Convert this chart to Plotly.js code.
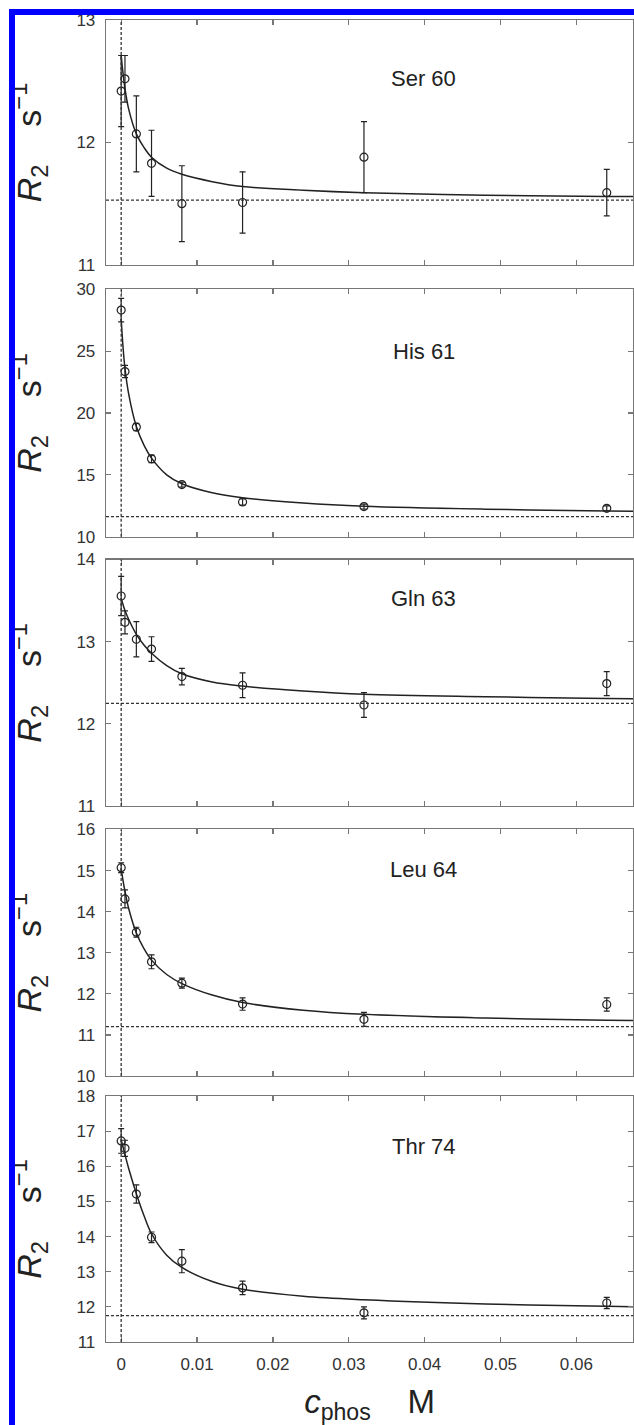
<!DOCTYPE html>
<html>
<head>
<meta charset="utf-8">
<script src="https://cdn.plot.ly/plotly-3.0.1.min.js"></script>
<style>
  html, body { margin: 0; padding: 0; background: #ffffff; overflow: hidden; }
  #wrap { position: relative; width: 634px; height: 1425px; }
  #chart { position: absolute; left: 0; top: 0; width: 634px; height: 1425px; }
  #frame { position: absolute; left: 9px; top: 9px; width: 640px; height: 1430px;
           border-left: 6px solid #0000ff; border-top: 6px solid #0000ff;
           pointer-events: none; z-index: 10; }
</style>
</head>
<body>
<div id="wrap">
  <div id="chart"></div>
  <div id="frame"></div>
</div>
<script>
// ---- data ----
const residues = ["Ser 60", "His 61", "Gln 63", "Leu 64", "Thr 74"];
const cPhos = [0, 0.0005, 0.002, 0.004, 0.008, 0.016, 0.032, 0.064];

const ser60    = [12.42, 12.52, 12.07, 11.83, 11.50, 11.51, 11.88, 11.59];
const ser60Err = [0.29, 0.19, 0.31, 0.27, 0.31, 0.25, 0.29, 0.19];
const his61    = [28.32, 23.35, 18.86, 16.29, 14.21, 12.80, 12.43, 12.29];
const his61Err = [0.95, 0.50, 0.30, 0.30, 0.20, 0.25, 0.20, 0.20];
const gln63    = [13.556, 13.236, 13.03, 12.91, 12.575, 12.47, 12.23, 12.49];
const gln63Err = [0.24, 0.14, 0.215, 0.15, 0.10, 0.15, 0.15, 0.145];
const leu64    = [15.07, 14.31, 13.50, 12.78, 12.26, 11.75, 11.38, 11.74];
const leu64Err = [0.12, 0.22, 0.12, 0.17, 0.12, 0.15, 0.17, 0.16];
const thr74    = [16.72, 16.51, 15.21, 13.98, 13.30, 12.54, 11.83, 12.11];
const thr74Err = [0.35, 0.23, 0.26, 0.15, 0.33, 0.19, 0.17, 0.16];

// fitted curves
const fitC     = [0, 0.00025, 0.0005, 0.001, 0.002, 0.003, 0.004, 0.006, 0.008, 0.012, 0.016, 0.024, 0.032, 0.048, 0.064, 0.0675];
const ser60Fit = [12.71, 12.56, 12.44, 12.27, 12.07, 11.96, 11.88, 11.79, 11.74, 11.68, 11.64, 11.61, 11.59, 11.57, 11.56, 11.56];
const his61Fit = [27.6, 25.3, 23.6, 21.5, 18.9, 17.4, 16.35, 15.0, 14.28, 13.55, 13.15, 12.72, 12.46, 12.22, 12.08, 12.05];
const gln63Fit = [13.53, 13.45, 13.38, 13.27, 13.09, 12.96, 12.86, 12.71, 12.61, 12.51, 12.46, 12.40, 12.36, 12.33, 12.31, 12.305];
const leu64Fit = [15.05, 14.75, 14.50, 14.07, 13.48, 13.10, 12.82, 12.47, 12.25, 11.97, 11.79, 11.60, 11.50, 11.41, 11.36, 11.35];
const thr74Fit = [16.76, 16.54, 16.33, 15.93, 15.22, 14.60, 14.08, 13.47, 13.12, 12.72, 12.50, 12.30, 12.20, 12.08, 12.02, 12.00];

// dashed reference levels
const rInf = [11.53, 11.61, 12.25, 11.20, 11.75];
const zeroConc = 0;

// axis ranges and ticks
const yRanges = [[11, 13], [10, 30], [11, 14], [10, 16], [11, 18]];
const yDticks = [1, 5, 1, 1, 1];
const xRange = [-0.002, 0.06746];
const xTickVals = [0, 0.01, 0.02, 0.03, 0.04, 0.05, 0.06];
const xTickText = ["0", "0.01", "0.02", "0.03", "0.04", "0.05", "0.06"];

// ---- build the figure ----
const obs = [ser60, his61, gln63, leu64, thr74];
const errs = [ser60Err, his61Err, gln63Err, leu64Err, thr74Err];
const fits = [ser60Fit, his61Fit, gln63Fit, leu64Fit, thr74Fit];
const domains = [[0.8147, 1], [0.6092, 0.7963], [0.4054, 0.5919], [0.2012, 0.3877], [0, 0.1861]];
const labelY = [0.763, 0.75, 0.84, 0.836, 0.794];

const FONT = '"Liberation Sans", Arial, Helvetica, sans-serif';
const INK = '#222222';
const FRAME = '#777777';
const NB = '\u00A0';

const traces = [];
const layout = {
  width: 634, height: 1425,
  margin: {l: 106, r: 1, t: 20, b: 83},
  paper_bgcolor: '#ffffff', plot_bgcolor: '#ffffff',
  showlegend: false,
  font: {family: FONT, color: '#333333', size: 17},
  shapes: [], annotations: []
};

for (let i = 0; i < 5; i++) {
  const n = i === 0 ? '' : String(i + 1);
  const xa = 'x' + n, ya = 'y' + n;
  traces.push({
    x: fitC, y: fits[i], xaxis: xa, yaxis: ya, type: 'scatter', mode: 'lines',
    line: {color: INK, width: 1.5, shape: 'spline', smoothing: 1}, hoverinfo: 'skip'
  });
  traces.push({
    x: cPhos, y: obs[i], xaxis: xa, yaxis: ya, type: 'scatter', mode: 'markers',
    marker: {symbol: 'circle-open', size: 8, color: INK, line: {width: 1.2, color: INK}},
    error_y: {type: 'data', array: errs[i], visible: true, color: INK, thickness: 1.2, width: 3},
    name: residues[i]
  });
  const isBottom = i === 4;
  layout['xaxis' + n] = {
    domain: [0, 1], anchor: ya, range: xRange,
    tickvals: xTickVals, ticktext: xTickText, showticklabels: isBottom,
    ticks: 'inside', ticklen: 5, tickwidth: 1.2, tickcolor: FRAME,
    showline: true, linecolor: FRAME, linewidth: 1.3, mirror: 'ticks',
    showgrid: false, zeroline: false,
    tickfont: {family: FONT, size: 17, color: '#333333'},
    ticklabelstandoff: 6
  };
  if (i > 0) layout['xaxis' + n].matches = 'x';
  if (isBottom) {
    layout['xaxis' + n].title = {
      text: '<i>c</i><sub>phos</sub>' + NB + NB + NB + NB + 'M',
      font: {family: FONT, size: 33, color: INK}, standoff: 20
    };
  }
  layout['yaxis' + n] = {
    domain: domains[i], anchor: xa, range: yRanges[i], dtick: yDticks[i], tick0: 0,
    ticks: 'inside', ticklen: 5, tickwidth: 1.2, tickcolor: FRAME,
    showline: true, linecolor: FRAME, linewidth: 1.3, mirror: 'ticks',
    showgrid: false, zeroline: false,
    tickfont: {family: FONT, size: 17, color: '#333333'},
    ticklabelstandoff: 6,
    title: {
      text: '<i>R</i><sub>2</sub>' + NB + NB + NB + NB + 's<sup>\u22121</sup>',
      font: {family: FONT, size: 34, color: INK}, standoff: 24
    }
  };
  // dashed reference lines
  layout.shapes.push({
    type: 'line', xref: xa, yref: ya + ' domain', x0: zeroConc, x1: zeroConc, y0: 0, y1: 1,
    line: {color: '#333333', width: 1.3, dash: '3px,2px'}
  });
  layout.shapes.push({
    type: 'line', xref: xa + ' domain', yref: ya, x0: 0, x1: 1, y0: rInf[i], y1: rInf[i],
    line: {color: '#333333', width: 1.3, dash: '3px,2px'}
  });
  layout.annotations.push({
    xref: xa + ' domain', yref: ya + ' domain', x: 0.603, y: labelY[i],
    text: residues[i], showarrow: false, xanchor: 'center', yanchor: 'middle',
    font: {family: FONT, size: 22, color: INK}
  });
}

Plotly.newPlot('chart', traces, layout, {staticPlot: true, displayModeBar: false});
</script>
</body>
</html>
